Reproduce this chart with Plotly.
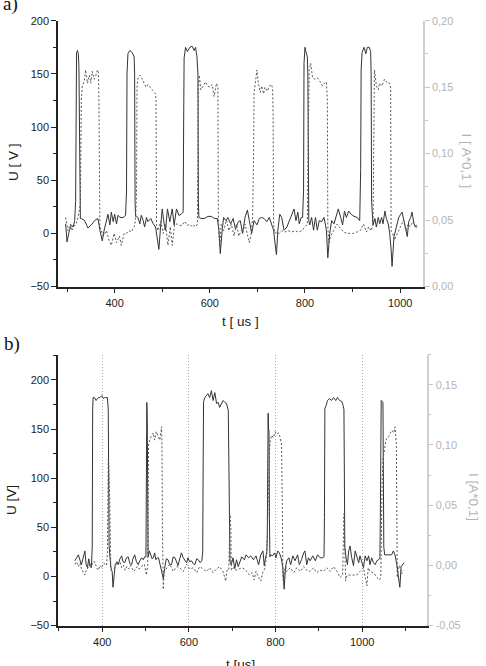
import plotly.graph_objects as go

# ---------------- data: panel a ----------------
ta_u = [297, 300, 305, 309, 313, 316, 318, 319, 320, 322, 324, 325, 327, 328,
        330, 337, 344, 351, 358, 365, 369, 374, 378, 383, 386, 390, 393, 397, 400, 404, 407, 411, 418, 423,
        425, 426, 428, 432, 437, 441, 442, 443, 444,
        446, 449, 453, 456, 460, 463, 467, 470, 476, 481, 486, 489, 493, 496, 500, 504, 507, 511, 516, 521,
        525, 530, 535, 540, 544, 545, 546, 549, 553, 558, 563, 567, 570, 573, 575, 576, 577,
        582, 589, 596, 603, 610, 616, 619, 622, 626, 629, 634, 638, 644, 649, 654, 660, 664, 669, 674, 679,
        683, 688, 693, 699, 704, 709, 714, 720, 725, 730, 734, 737, 740, 743, 747, 751, 756, 762, 767, 772,
        777, 781, 785, 788, 792, 795, 797, 798, 800, 802, 805, 806, 807, 808,
        810, 814, 818, 822, 826, 830, 835, 840, 845, 848, 852, 856, 861, 866, 870, 875, 879, 883, 887, 892,
        897, 903, 910, 915, 917, 918, 920, 924, 928, 931, 935, 938, 939, 940, 941,
        943, 947, 950, 954, 957, 961, 964, 968, 971, 975, 978, 981, 983, 987, 990, 994, 997, 1001, 1004,
        1008, 1011, 1015, 1018, 1022, 1025, 1029, 1032, 1036]
u_a = [9, -8, 3, 8, 6, 12, 30, 160, 170, 172, 168, 155, 30, 14,
       14, 12, 5, 8, 12, 14, 3, -7, 3, 12, 18, 8, 20, 11, 18, 9, 17, 15, 15, 17,
       40, 150, 169, 172, 170, 166, 150, 30, 16,
       16, 15, 9, 17, 12, 6, 15, 11, 14, 9, 6, -3, -15, 3, 23, 9, 3, 23, 11, 23,
       8, 23, 17, 18, 20, 100, 165, 175, 171, 175, 176, 172, 175, 166, 150, 30, 15,
       14, 14, 16, 16, 14, 14, 3, -19, 3, 15, 12, 15, 9, 14, 4, 11, 12, 0, 15, 22,
       12, 0, 12, 8, 14, 15, 14, 11, 15, 9, 3, -9, -20, 3, 18, 15, 3, 6, 12, 18,
       23, 12, 20, 9, 15, 15, 40, 160, 175, 171, 166, 150, 30, 12,
       8, 15, 3, 15, 3, 12, 11, 15, 3, -23, 0, 12, 9, 18, 23, 15, 8, 21, 15, 21,
       18, 16, 15, 12, 60, 154, 170, 175, 169, 175, 175, 171, 150, 30, 15,
       8, 14, 6, 15, 9, 15, 9, 21, 14, 9, 0, -15, -31, -3, 3, 12, 15, 18, 20,
       12, 6, -3, 11, 15, 20, 9, 6, 6]

ta_i = [297, 302, 307, 310, 314, 319, 323, 328, 330, 332, 336, 339, 343, 347, 350, 353, 357, 360, 364, 366, 367, 369,
        376, 383, 388, 393, 399, 404, 410, 414, 420, 425, 430, 435, 441, 444, 446, 447, 449, 453, 458, 462, 466,
        470, 475, 479, 483, 486, 487, 488,
        491, 497, 502, 507, 512, 517, 521, 526, 532, 537, 542, 547, 553, 558, 563, 567, 571, 574, 575, 576, 578,
        581, 586, 591, 595, 600, 605, 609, 614, 617, 618,
        621, 624, 629, 635, 640, 645, 651, 656, 661, 666, 670, 674, 679, 683, 687, 690, 692, 693, 695, 699, 702,
        706, 709, 713, 716, 721, 725, 730, 732, 733, 734,
        737, 741, 746, 751, 758, 765, 772, 779, 786, 793, 800, 805, 807, 809, 812, 816, 821, 826, 832, 837, 841,
        845, 847, 848,
        850, 854, 860, 867, 874, 881, 888, 895, 902, 909, 916, 923, 929, 934, 939, 943, 944, 946, 950, 954, 957,
        962, 967, 973, 978, 980, 981,
        984, 988, 992, 997, 1002, 1007, 1012, 1017, 1021, 1027, 1032, 1036]
i_a = [0.052, 0.042, 0.047, 0.042, 0.045, 0.047, 0.052, 0.062, 0.140, 0.151, 0.154, 0.163, 0.153, 0.159, 0.153,
       0.162, 0.156, 0.158, 0.163, 0.161, 0.140, 0.045,
       0.038, 0.042, 0.035, 0.031, 0.040, 0.033, 0.038, 0.031, 0.040, 0.040, 0.042, 0.041, 0.045, 0.050, 0.070,
       0.150, 0.157, 0.159, 0.156, 0.153, 0.150, 0.152, 0.150, 0.148, 0.147, 0.145, 0.140, 0.047,
       0.042, 0.049, 0.040, 0.047, 0.031, 0.045, 0.031, 0.047, 0.047, 0.046, 0.046, 0.049, 0.046, 0.047, 0.045,
       0.046, 0.045, 0.047, 0.100, 0.150, 0.159, 0.148, 0.151, 0.154, 0.151, 0.150, 0.152, 0.143, 0.153, 0.150,
       0.052,
       0.030, 0.047, 0.042, 0.050, 0.042, 0.047, 0.038, 0.047, 0.038, 0.042, 0.042, 0.047, 0.040, 0.033, 0.040,
       0.052, 0.100, 0.145, 0.151, 0.163, 0.153, 0.146, 0.151, 0.145, 0.150, 0.147, 0.151, 0.152, 0.148, 0.130,
       0.047,
       0.040, 0.041, 0.040, 0.042, 0.041, 0.042, 0.041, 0.042, 0.041, 0.042, 0.045, 0.047, 0.120, 0.163, 0.168,
       0.157, 0.156, 0.157, 0.154, 0.151, 0.153, 0.154, 0.140, 0.045,
       0.033, 0.038, 0.042, 0.047, 0.044, 0.041, 0.040, 0.040, 0.040, 0.041, 0.042, 0.047, 0.041, 0.045, 0.042,
       0.047, 0.120, 0.163, 0.151, 0.148, 0.153, 0.151, 0.156, 0.153, 0.153, 0.150, 0.042,
       0.040, 0.035, 0.038, 0.042, 0.045, 0.050, 0.042, 0.047, 0.045, 0.049, 0.046, 0.046]

# ---------------- data: panel b ----------------
tb_u = [337, 345, 352, 356, 360, 363, 366, 369, 372, 375, 377, 378, 379, 382, 386, 389, 392, 395, 399, 403, 405,
        408, 412, 414, 415, 416, 420, 423, 425, 428, 430, 434, 437, 441, 445, 448, 452, 456, 460, 464, 468, 471,
        475, 479, 483, 487, 491, 495, 498, 501, 502, 503, 504, 505, 506, 509, 512, 515, 518, 521, 524, 527, 530,
        534, 538, 541, 544, 548, 552, 556, 560, 564, 568, 572, 575, 579, 583, 587, 591, 595, 598, 602, 606, 610,
        614, 618, 622, 626, 630, 632, 633, 634, 637, 641, 644, 648, 652, 656, 660, 664, 668, 671, 675, 679, 683,
        687, 691, 693, 694, 695, 698, 702, 706, 710, 714, 718, 722, 728, 732, 738, 743, 749, 755, 761, 766, 771,
        774, 777, 780, 781, 782, 783, 784, 785, 786, 787, 789, 793, 798, 801, 805, 809, 813, 817, 820, 823, 826,
        831, 835, 840, 845, 851, 855, 860, 865, 868, 872, 876, 880, 886, 892, 897, 903, 909, 912, 913, 914, 917,
        920, 925, 929, 934, 939, 943, 948, 953, 956, 958, 959, 960, 963, 966, 969, 972, 976, 980, 984, 988, 992,
        995, 999, 1003, 1007, 1011, 1015, 1018, 1022, 1026, 1030, 1034, 1038, 1041, 1042, 1043, 1044, 1048, 1049,
        1050, 1052, 1060, 1068, 1072, 1076, 1080, 1083, 1087, 1090, 1093, 1097]
u_b = [16, 22, 12, 20, 26, 12, 9, 18, 10, 9, 30, 170, 182, 182, 179, 181, 182, 182, 184, 181, 182,
       182, 182, 170, 100, 30, 9, 5, -11, 5, 12, 15, 12, 18, 21, 15, 14, 19, 20, 13, 12, 18,
       22, 15, 12, 16, 19, 17, 20, 20, 143, 177, 160, 80, 20, 26, 22, 18, 19, 24, 17, 19, 19,
       12, 5, -2, 8, 18, 17, 12, 12, 20, 19, 14, 11, 18, 24, 19, 16, 14, 19, 15, 16, 13,
       12, 18, 17, 14, 16, 25, 110, 178, 182, 184, 186, 182, 189, 179, 187, 176, 177, 172, 176, 179, 177,
       176, 169, 100, 40, 15, 12, 19, 8, 17, 10, 16, 20, 17, 22, 19, 21, 17, 21, 12, 22, 26,
       11, 19, 25, 40, 140, 166, 150, 148, 60, 20, 22, 21, 24, 19, 26, 24, 19, 9, -13, 9, 16,
       19, 12, 21, 16, 22, 12, 17, 24, 26, 12, 19, 16, 21, 16, 22, 19, 19, 20, 60, 171, 174,
       179, 181, 179, 182, 179, 182, 179, 178, 174, 170, 100, 30, 19, 12, 26, 31, 19, 11, 26, 19, 14,
       21, 16, 9, 21, 16, 21, 12, 19, 14, 12, 16, 17, 19, 60, 179, 179, 177, 100,
       30, 22, 22, 22, 26, 22, 12, 3, -11, 10, 12, 14]

tb_i = [337, 341, 345, 349, 352, 356, 360, 364, 368, 372, 375, 379, 383, 387, 391, 395, 399, 403, 406, 410, 412,
        413, 414, 415, 417, 418, 420, 424, 429, 433, 437, 441, 445, 449, 453, 457, 461, 465, 469, 473, 477, 481,
        485, 489, 493, 497, 500, 502, 505, 506, 507, 510, 514, 518, 521, 525, 529, 533, 537, 538, 539, 541, 543,
        548, 556, 564, 572, 579, 587, 595, 602, 610, 618, 625, 633, 641, 648, 656, 664, 671, 679, 685, 688, 692,
        693, 694, 695, 697, 698, 703, 709, 716, 722, 728, 734, 740, 746, 751, 755, 761, 766, 771, 775, 780, 782,
        784, 786, 788, 791, 795, 799, 803, 807, 810, 814, 816, 817, 819, 821, 824, 826, 834, 842, 849, 857, 865,
        872, 880, 888, 895, 903, 911, 918, 926, 934, 942, 949, 955, 957, 958, 962, 963, 966, 972, 980, 988, 995,
        1003, 1011, 1014, 1018, 1026, 1034, 1040, 1043, 1044, 1046, 1048, 1051, 1055, 1058, 1062, 1065, 1069,
        1073, 1076, 1079, 1080, 1081, 1083, 1086, 1088, 1091, 1095, 1098]
i_b = [0.001, 0.003, -0.001, 0.002, -0.003, -0.006, -0.008, -0.003, -0.002, 0.002, -0.001, 0.003, 0.003, -0.002,
       -0.004, 0.000, -0.002, 0.002, 0.001, 0.000, 0.010, 0.060, 0.088, 0.085, 0.060, 0.020, -0.004, -0.003,
       -0.002, 0.002, 0.001, 0.003, -0.002, 0.000, -0.004, -0.001, -0.003, 0.000, -0.002, -0.005, -0.003, -0.001,
       -0.003, -0.002, 0.000, 0.001, -0.004, -0.008, 0.000, 0.060, 0.100, 0.104, 0.108, 0.110, 0.104, 0.111,
       0.107, 0.104, 0.115, 0.100, 0.030, -0.020, -0.005,
       -0.003, 0.001, -0.005, -0.001, -0.002, -0.005, 0.001, -0.003, -0.002, -0.006, -0.001, -0.003, -0.005,
       -0.002, -0.006, -0.003, -0.001, -0.005, -0.013, -0.004, -0.004, 0.010, 0.028, 0.042, 0.030, -0.004,
       -0.002, -0.004, -0.003, -0.002, -0.003, -0.005, -0.008, -0.006, -0.012, -0.005, -0.010, -0.013, -0.005,
       -0.003, 0.010, 0.044, 0.085, 0.094, 0.104, 0.108, 0.106, 0.111, 0.109, 0.110, 0.107, 0.100, 0.040, -0.010,
       -0.016, -0.004, -0.001, -0.005, -0.002, -0.006, -0.002, -0.005, -0.001, -0.004, -0.005, -0.002, -0.006,
       -0.004, -0.005, -0.002, -0.005, -0.001, -0.005, -0.010, -0.008, 0.043, 0.043, -0.013, -0.010, -0.008,
       -0.008, -0.008, -0.008, -0.005, -0.002, -0.017, -0.002, -0.005, -0.006, -0.010, -0.012, -0.010, 0.030,
       0.066, 0.088, 0.096, 0.104, 0.106, 0.107, 0.110, 0.112, 0.110, 0.115, 0.100, 0.040, -0.010, -0.004,
       0.000, -0.002, -0.007, -0.004]

# tick labels
ya2_vals = [0.0, 0.05, 0.10, 0.15, 0.20]
ya2_text = ['0,00', '0,05', '0,10', '0,15', '0,20']
yb2_vals = [-0.05, 0.0, 0.05, 0.10, 0.15]
yb2_text = ['-0,05', '0,00', '0,05', '0,10', '0,15']

W, H = 486, 666
def fx(p):
    return p / W
def fy(p):
    return 1 - p / H

FONT = 'Arial'
DARK = '#222222'
GRAY = '#b4b4b4'
SOLID = dict(color='#333333', width=1)
DOT = dict(color='#555555', width=1, dash='2px,2px')

fig = go.Figure()
fig.add_trace(go.Scatter(x=ta_i, y=i_a, mode='lines', line=DOT, xaxis='x', yaxis='y2', showlegend=False))
fig.add_trace(go.Scatter(x=ta_u, y=u_a, mode='lines', line=SOLID, xaxis='x', yaxis='y', showlegend=False))
fig.add_trace(go.Scatter(x=tb_i, y=i_b, mode='lines', line=DOT, xaxis='x3', yaxis='y4', showlegend=False))
fig.add_trace(go.Scatter(x=tb_u, y=u_b, mode='lines', line=SOLID, xaxis='x3', yaxis='y3', showlegend=False))

tickfont = dict(family=FONT, size=11, color=DARK)
grayfont = dict(family=FONT, size=11, color=GRAY)

def xbottom(dom, rng, anchor, grid):
    return dict(domain=dom, range=rng, anchor=anchor, showline=True, linecolor=DARK, linewidth=1.5,
                ticks='outside', ticklen=5, tickwidth=1, tickcolor=DARK, tick0=0, dtick=200,
                minor=dict(dtick=100, tick0=0, ticks='outside', ticklen=4, tickcolor=DARK, showgrid=False),
                showgrid=grid, gridcolor='#a8a8a8', griddash='1px,2px', gridwidth=1,
                zeroline=False, tickfont=tickfont)

def xtop(over, rng, anchor):
    return dict(overlaying=over, anchor=anchor, side='top', range=rng, showline=True, linecolor=DARK,
                linewidth=1.5, ticks='inside', ticklen=5, tickcolor=DARK, tick0=0, dtick=200,
                minor=dict(dtick=100, tick0=0, ticks='inside', ticklen=4, tickcolor=DARK),
                showticklabels=False, showgrid=False, zeroline=False)

def yleft(dom, rng, anchor):
    return dict(domain=dom, range=rng, anchor=anchor, showline=True, linecolor=DARK, linewidth=1.5,
                ticks='outside', ticklen=5, tickcolor=DARK, tick0=0, dtick=50,
                minor=dict(dtick=25, tick0=0, ticks='outside', ticklen=3, tickcolor=DARK),
                showgrid=False, zeroline=False, tickfont=tickfont)

def yright(over, rng, anchor, vals, text, mdt):
    return dict(overlaying=over, anchor=anchor, side='right', range=rng, showline=True, linecolor='#cfcfcf',
                linewidth=1.5, ticks='outside', ticklen=5, tickcolor='#c4c4c4', tickvals=vals, ticktext=text,
                minor=dict(dtick=mdt, tick0=0, ticks='outside', ticklen=3, tickcolor='#c4c4c4'),
                showgrid=False, zeroline=False, tickfont=grayfont)

fig.update_layout(
    width=W, height=H, margin=dict(l=0, r=0, t=0, b=0),
    paper_bgcolor='white', plot_bgcolor='white', showlegend=False,
    xaxis=xbottom([fx(58), fx(423)], [281, 1048], 'y', False),
    xaxis2=xtop('x', [281, 1048], 'y'),
    yaxis=yleft([fy(285.7), fy(15)], [-50, 200], 'x'),
    yaxis2=yright('y', [0, 0.2], 'x', ya2_vals, ya2_text, 0.025),
    xaxis3=xbottom([fx(58), fx(426.7)], [298, 1149], 'y3', True),
    xaxis4=xtop('x3', [298, 1149], 'y3'),
    yaxis3=yleft([fy(631), fy(355)], [-50, 225.7], 'x3'),
    yaxis4=yright('y3', [-0.05, 0.175], 'x3', yb2_vals, yb2_text, 0.025),
)

def ann(text, x, y, size=13.5, color=DARK, angle=0, family=FONT, yanchor='middle', xanchor='center'):
    fig.add_annotation(text=text, x=fx(x), y=fy(y), xref='paper', yref='paper', showarrow=False,
                       textangle=angle, xanchor=xanchor, yanchor=yanchor,
                       font=dict(family=family, size=size, color=color))

serif = 'Liberation Serif'
ann('a)', 10, -2, size=19, color='#111111', family=serif)
ann('b)', 12, 344, size=19, color='#111111', family=serif)
ann('U [ V ]', 12.8, 159, angle=-90)
ann('I [ A*0,1 ]', 466.7, 158, angle=90, color=GRAY)
ann('t [ us ]', 240, 321)
ann('U [V]', 12, 503, angle=-90)
ann('I [A*0,1]', 473, 500, angle=90, color=GRAY)
ann('t [us]', 240, 661, yanchor='top')

fig.write_html('out.html')
